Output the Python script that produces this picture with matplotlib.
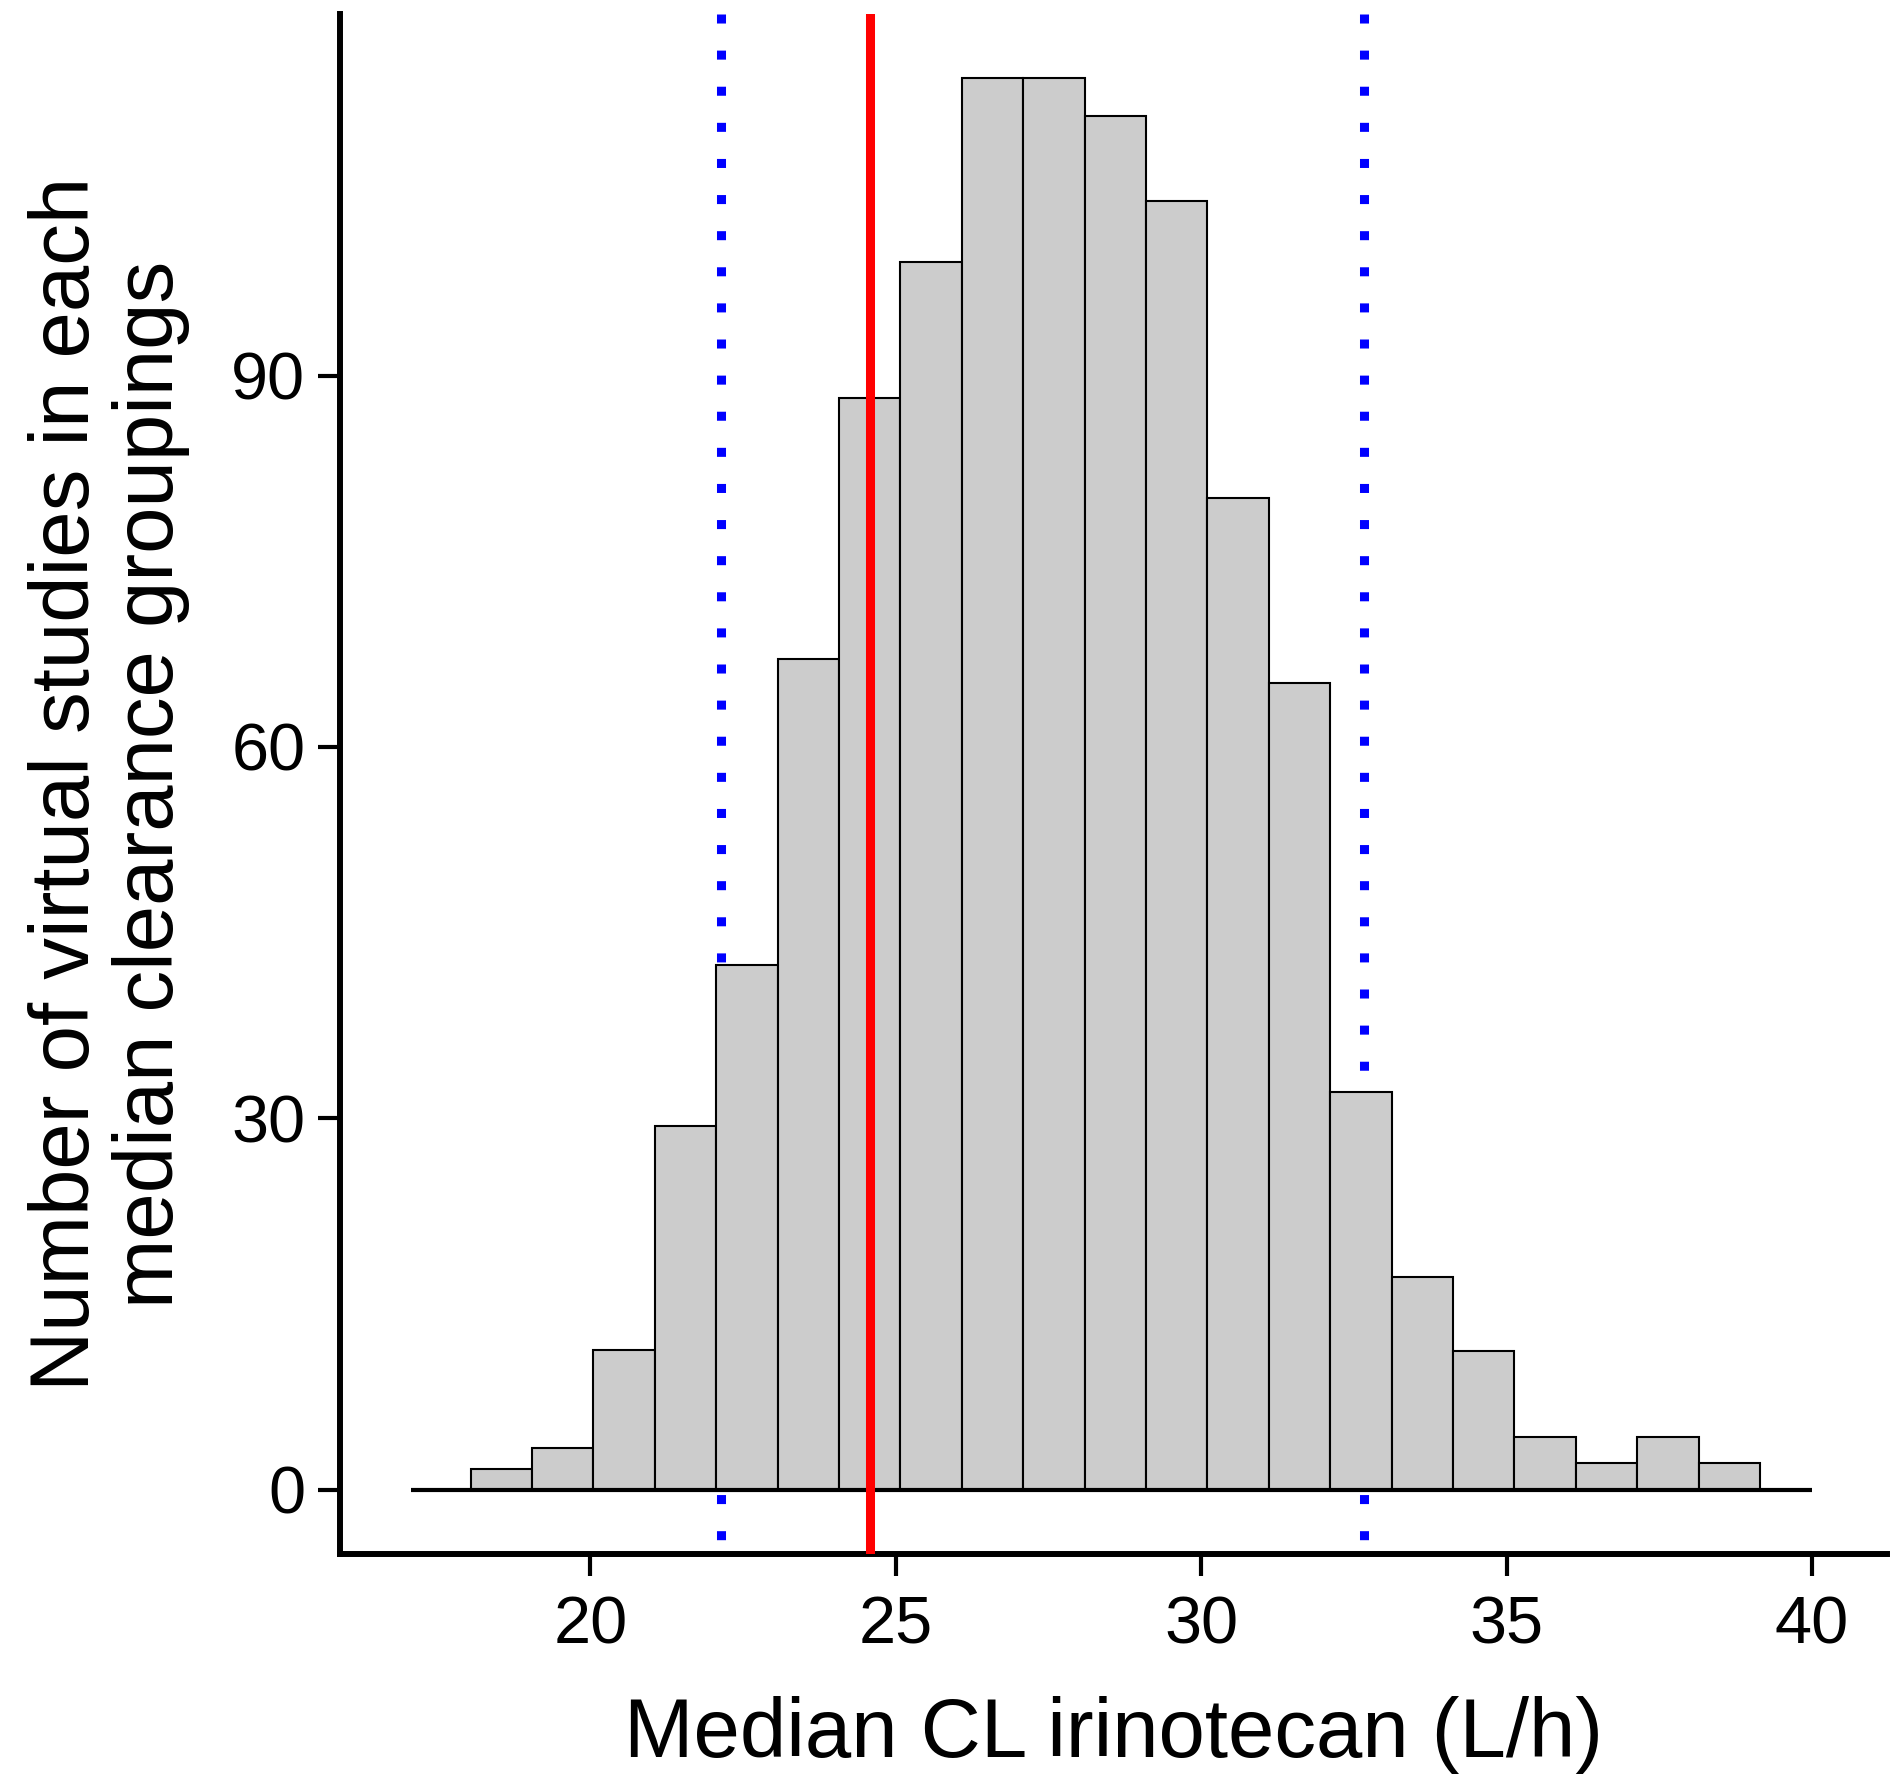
import matplotlib.pyplot as plt
import numpy as np

plt.rcParams['font.family'] = ['Liberation Sans', 'DejaVu Sans']

# numero de estudos virtuais por classe
counts = [1.7, 3.35, 11.3, 29.4, 42.4, 67.1, 88.2, 99.2, 114.0, 114.0, 111.0,
          104.1, 80.1, 65.2, 32.1, 17.2, 11.2, 4.24, 2.19, 4.24, 2.19]
edge_min, edge_max = 18.04, 39.15   # limites das classes
base_from, base_to = 17.07, 40.0    # linha de base em y = 0
median_cl = 24.57                   # linha vermelha
lower_pi, upper_pi = 22.14, 32.66   # linhas azuis pontilhadas
xticks = [20, 25, 30, 35, 40]
yticks = [0, 30, 60, 90]
xlim = (15.90, 41.23)
ylim = (-5.19, 119.2)

edges = np.linspace(edge_min, edge_max, len(counts) + 1)

fig = plt.figure(figsize=(18.96, 17.87), dpi=100)
ax = fig.add_axes([340 / 1896, 233 / 1787, 1547 / 1896, 1540 / 1787])

# linhas pontilhadas ficam atras das barras, comecam no topo
for x in (lower_pi, upper_pi):
    ax.plot([x, x], [ylim[1], ylim[0]], color='#0000ff', linewidth=6.5,
            linestyle=(0, (1, 3)), solid_capstyle='butt', zorder=1)

ax.bar(edges[:-1], counts, width=np.diff(edges), align='edge',
       color='#cccccc', edgecolor='black', linewidth=1.5, zorder=2)
ax.hlines(0, base_from, base_to, color='black', linewidth=3, zorder=3)
ax.axvline(median_cl, color='#ff0000', linewidth=6.5, zorder=5)

ax.set_xlim(*xlim)
ax.set_ylim(*ylim)
ax.set_xticks(xticks)
ax.set_yticks(yticks)

for s in ['top', 'right']:
    ax.spines[s].set_visible(False)
for s in ['left', 'bottom']:
    ax.spines[s].set_linewidth(4.3)

ax.tick_params(axis='both', length=16, width=3, labelsize=48)
ax.tick_params(axis='x', pad=14)
ax.tick_params(axis='y', pad=9)

ax.set_xlabel('Median CL irinotecan (L/h)', fontsize=60)
ax.xaxis.set_label_coords(0.5, -0.092)
ax.set_ylabel('Number of virtual studies in each\nmedian clearance groupings',
              fontsize=60, linespacing=1.1)
ax.yaxis.set_label_coords(-0.097, 0.5)

fig.savefig('out.png', dpi=100)
